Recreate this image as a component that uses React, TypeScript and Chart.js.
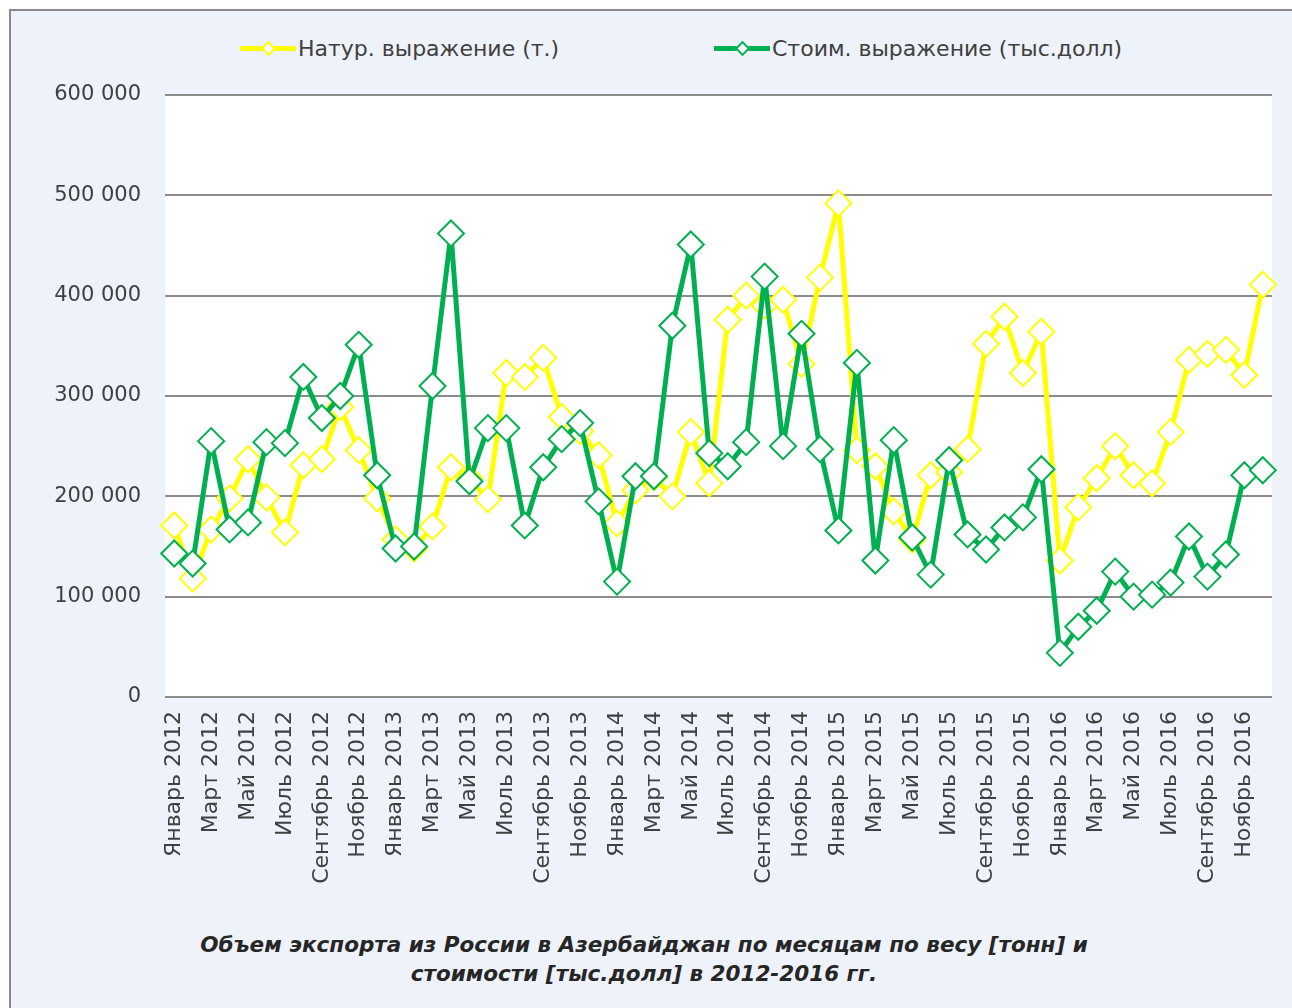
import React, { useEffect, useRef } from "react";
import { Chart, registerables } from "chart.js";

Chart.register(...registerables);

const MONTHS = ["Январь", "Февраль", "Март", "Апрель", "Май", "Июнь", "Июль", "Август", "Сентябрь", "Октябрь", "Ноябрь", "Декабрь"];
const YEARS = [2012, 2013, 2014, 2015, 2016];
const categories: string[] = [];
YEARS.forEach((y) => MONTHS.forEach((m) => categories.push(`${m} ${y}`)));

const naturSeries = [
  171000, 118000, 167000, 198000, 237000, 199000, 164000, 231000, 237000, 289000, 246000, 198000,
  157000, 148000, 170000, 229000, 218000, 197000, 323000, 319000, 338000, 279000, 265000, 241000,
  173000, 206000, 219000, 200000, 264000, 213000, 376000, 400000, 390000, 396000, 332000, 418000,
  492000, 246000, 230000, 185000, 157000, 221000, 224000, 247000, 352000, 379000, 323000, 364000,
  136000, 189000, 218000, 250000, 221000, 213000, 264000, 336000, 342000, 346000, 321000, 411000,
];

const stoimSeries = [
  143000, 133000, 255000, 167000, 174000, 254000, 253000, 319000, 278000, 300000, 351000, 221000,
  148000, 150000, 310000, 462000, 215000, 268000, 268000, 171000, 229000, 257000, 273000, 195000,
  115000, 220000, 220000, 370000, 451000, 243000, 230000, 254000, 419000, 250000, 362000, 247000,
  166000, 333000, 136000, 256000, 159000, 122000, 236000, 162000, 147000, 169000, 179000, 227000,
  44000, 70000, 86000, 125000, 100000, 102000, 114000, 160000, 120000, 142000, 221000, 226000,
];

const seriesNames = ["Натур. выражение (т.)", "Стоим. выражение (тыс.долл)"];
const seriesColors = ["#ffff00", "#00b050"];
const yTicks = [0, 100000, 200000, 300000, 400000, 500000, 600000];
const captionLines = [
  "Объем экспорта из России в Азербайджан по месяцам по весу [тонн] и",
  "стоимости [тыс.долл] в 2012-2016 гг.",
];

const FONT = "'DejaVu Sans', sans-serif";

const fmt = (v: number) => String(Math.round(v)).replace(/\B(?=(\d{3})+(?!\d))/g, " ");

const plotBg = {
  id: "plotBg",
  beforeDraw(chart: any) {
    const { ctx, chartArea } = chart;
    ctx.save();
    ctx.fillStyle = "#ffffff";
    ctx.fillRect(chartArea.left, chartArea.top, chartArea.right - chartArea.left, chartArea.bottom - chartArea.top);
    ctx.restore();
  },
};

function LegendItem({ left, color, text }: { left: number; color: string; text: string }) {
  return (
    <div style={{ position: "absolute", left, top: 34, height: 28, display: "flex", alignItems: "center" }}>
      <div style={{ position: "relative", width: 56, height: 28 }}>
        <div style={{ position: "absolute", left: 0, top: 11.5, width: 56, height: 5, background: color }} />
        <div
          style={{
            position: "absolute",
            left: 23,
            top: 9,
            width: 7,
            height: 7,
            background: "#fff",
            border: `2px solid ${color}`,
            transform: "rotate(45deg)",
          }}
        />
      </div>
      <span style={{ marginLeft: 2, fontFamily: FONT, fontSize: 22, color: "#404040", whiteSpace: "nowrap" }}>{text}</span>
    </div>
  );
}

function makeDataset(i: number, data: number[], order: number) {
  return {
    label: seriesNames[i],
    data,
    borderColor: seriesColors[i],
    backgroundColor: "#ffffff",
    borderWidth: 5,
    borderJoinStyle: "round" as const,
    borderCapStyle: "round" as const,
    pointStyle: "rectRot" as const,
    pointRadius: 13,
    pointBorderWidth: 2,
    pointBorderColor: seriesColors[i],
    pointBackgroundColor: "#ffffff",
    tension: 0,
    order,
  };
}

export default function App() {
  const canvasRef = useRef<HTMLCanvasElement | null>(null);

  useEffect(() => {
    if (!canvasRef.current) return;
    const chart = new Chart(canvasRef.current, {
      type: "line",
      data: {
        labels: categories,
        datasets: [makeDataset(0, naturSeries, 1), makeDataset(1, stoimSeries, 0)],
      },
      options: {
        animation: false,
        responsive: false,
        maintainAspectRatio: false,
        layout: { padding: { top: 15, right: 20, left: 0, bottom: 0 } },
        plugins: { legend: { display: false }, tooltip: { enabled: false }, title: { display: false } },
        scales: {
          x: {
            type: "category",
            offset: true,
            grid: { display: false, drawTicks: false },
            border: { display: false },
            ticks: {
              autoSkip: false,
              maxRotation: 90,
              minRotation: 90,
              padding: 14,
              color: "#404040",
              font: { family: FONT, size: 22 },
              callback: (_v: any, i: number) => (i % 2 === 0 ? categories[i] : ""),
            },
            afterFit: (s: any) => {
              s.height = 203;
              s.paddingLeft = 0;
              s.paddingRight = 0;
            },
          },
          y: {
            min: 0,
            max: 600000,
            afterBuildTicks: (s: any) => {
              s.ticks = yTicks.map((v) => ({ value: v }));
            },
            grid: { color: "#8c8c8c", lineWidth: 2, drawTicks: false },
            border: { display: false },
            ticks: {
              padding: 24,
              color: "#404040",
              font: { family: FONT, size: 21 },
              callback: (v: any) => fmt(Number(v)),
            },
            afterFit: (s: any) => {
              s.width = 165;
              s.paddingTop = 0;
              s.paddingBottom = 0;
            },
          },
        },
      },
      plugins: [plotBg],
    });
    return () => chart.destroy();
  }, []);

  return (
    <div style={{ position: "fixed", left: 0, top: 0, width: 1292, height: 1008, overflow: "hidden", background: "#ffffff" }}>
      <div
        style={{
          position: "absolute",
          left: 9,
          top: 9,
          width: 1300,
          height: 1020,
          border: "2px solid #8a8a8a",
          background: "#eef2fa",
          boxSizing: "border-box",
        }}
      />
      <LegendItem left={240} color={seriesColors[0]} text={seriesNames[0]} />
      <LegendItem left={714} color={seriesColors[1]} text={seriesNames[1]} />
      <div style={{ position: "absolute", left: 0, top: 80, width: 1292, height: 820 }}>
        <canvas ref={canvasRef} width={1292} height={820} style={{ width: 1292, height: 820, display: "block" }} />
      </div>
      <div
        style={{
          position: "absolute",
          left: 0,
          top: 930,
          width: 1288,
          textAlign: "center",
          fontFamily: FONT,
          fontWeight: "bold",
          fontStyle: "italic",
          fontSize: 21.5,
          lineHeight: "29px",
          color: "#262626",
        }}
      >
        {captionLines.map((l, i) => (
          <div key={i}>{l}</div>
        ))}
      </div>
    </div>
  );
}
